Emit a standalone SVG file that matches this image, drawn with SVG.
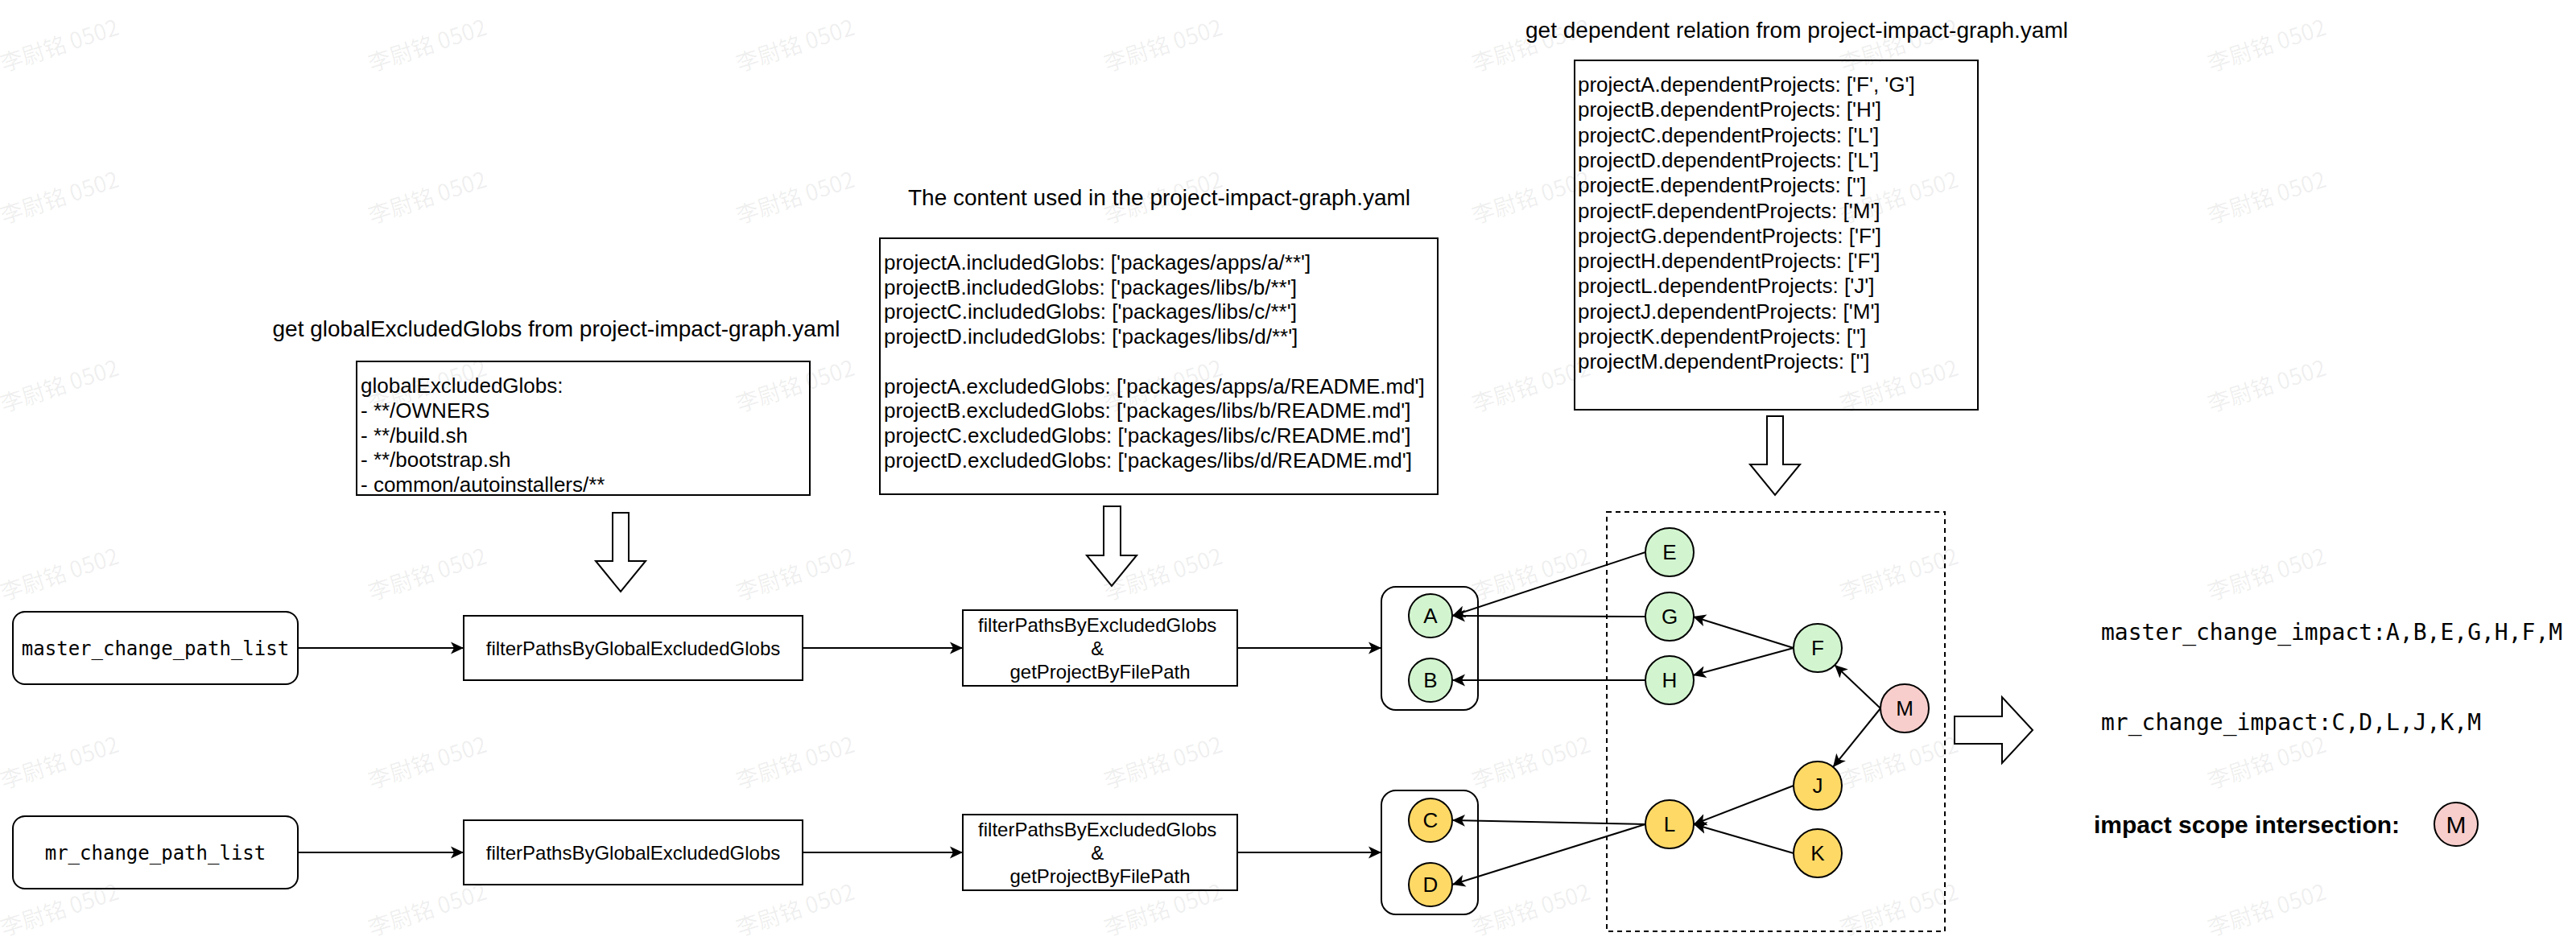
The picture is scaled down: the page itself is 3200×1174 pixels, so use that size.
<svg xmlns="http://www.w3.org/2000/svg" width="3200" height="1174" viewBox="0 0 3200 1174">
<style>
.t{font-family:"Liberation Sans",Arial,Helvetica,sans-serif;fill:#000}
.m{font-family:"DejaVu Sans Mono","Liberation Mono",monospace;fill:#000}
.box{fill:#fff;stroke:#000;stroke-width:2}
.ln{fill:none;stroke:#000;stroke-width:2}
.g{fill:#d2f5cf;stroke:#000;stroke-width:2}
.y{fill:#ffd966;stroke:#000;stroke-width:2}
.p{fill:#f8cecc;stroke:#000;stroke-width:2}
.blk{fill:#fff;stroke:#000;stroke-width:2;stroke-linejoin:miter}
.wm{font-family:"Noto Sans CJK SC","Liberation Sans",sans-serif;font-size:28px;fill:#000;fill-opacity:0.07}
</style>
<defs>
<marker id="arr" markerUnits="userSpaceOnUse" markerWidth="18" markerHeight="16" viewBox="0 0 18 16" refX="16" refY="8" orient="auto">
<path d="M0,0.5 L16,8 L0,15.5 L4,8 Z" fill="#000"/>
</marker>
</defs>
<rect width="3200" height="1174" fill="#fff"/>

<g id="title-global" class="t" font-size="28"><text x="691" y="418" text-anchor="middle">get globalExcludedGlobs from project-impact-graph.yaml</text></g>
<g id="title-content" class="t" font-size="28"><text x="1440" y="255" text-anchor="middle">The content used in the project-impact-graph.yaml</text></g>
<g id="title-dependent" class="t" font-size="28"><text x="2232" y="47" text-anchor="middle">get dependent relation from project-impact-graph.yaml</text></g>

<g id="global-globs-box">
<rect class="box" x="443" y="449" width="563" height="166"/>
<text class="t" font-size="26">
<tspan x="448" y="488">globalExcludedGlobs:</tspan>
<tspan x="448" y="519">- **/OWNERS</tspan>
<tspan x="448" y="550">- **/build.sh</tspan>
<tspan x="448" y="580">- **/bootstrap.sh</tspan>
<tspan x="448" y="611">- common/autoinstallers/**</tspan>
</text>
</g>

<g id="content-box">
<rect class="box" x="1093" y="296" width="693" height="318"/>
<text class="t" font-size="26">
<tspan x="1098" y="335">projectA.includedGlobs: ['packages/apps/a/**']</tspan>
<tspan x="1098" y="366">projectB.includedGlobs: ['packages/libs/b/**']</tspan>
<tspan x="1098" y="396">projectC.includedGlobs: ['packages/libs/c/**']</tspan>
<tspan x="1098" y="427">projectD.includedGlobs: ['packages/libs/d/**']</tspan>
<tspan x="1098" y="489">projectA.excludedGlobs: ['packages/apps/a/README.md']</tspan>
<tspan x="1098" y="519">projectB.excludedGlobs: ['packages/libs/b/README.md']</tspan>
<tspan x="1098" y="550">projectC.excludedGlobs: ['packages/libs/c/README.md']</tspan>
<tspan x="1098" y="581">projectD.excludedGlobs: ['packages/libs/d/README.md']</tspan>
</text>
</g>

<g id="dependent-box">
<rect class="box" x="1956" y="75" width="501" height="434"/>
<text class="t" font-size="26">
<tspan x="1960" y="114">projectA.dependentProjects: ['F', 'G']</tspan>
<tspan x="1960" y="145">projectB.dependentProjects: ['H']</tspan>
<tspan x="1960" y="177">projectC.dependentProjects: ['L']</tspan>
<tspan x="1960" y="208">projectD.dependentProjects: ['L']</tspan>
<tspan x="1960" y="239">projectE.dependentProjects: ['']</tspan>
<tspan x="1960" y="271">projectF.dependentProjects: ['M']</tspan>
<tspan x="1960" y="302">projectG.dependentProjects: ['F']</tspan>
<tspan x="1960" y="333">projectH.dependentProjects: ['F']</tspan>
<tspan x="1960" y="364">projectL.dependentProjects: ['J']</tspan>
<tspan x="1960" y="396">projectJ.dependentProjects: ['M']</tspan>
<tspan x="1960" y="427">projectK.dependentProjects: ['']</tspan>
<tspan x="1960" y="458">projectM.dependentProjects: ['']</tspan>
</text>
</g>

<g id="block-arrows">
<path id="down-arrow-1" class="blk" d="M761,637 H781 V697 H802 L771,735 L740,697 H761 Z"/>
<path id="down-arrow-2" class="blk" d="M1371,629 H1392 V690 H1412 L1381,728 L1350,690 H1371 Z"/>
<path id="down-arrow-3" class="blk" d="M2195,517 H2215 V577 H2236 L2205,615 L2174,577 H2195 Z"/>
<path id="right-arrow" class="blk" d="M2428,890 H2487 V866 L2525,907 L2487,948 V924 H2428 Z"/>
</g>

<g id="master-change-path-list">
<rect class="box" x="16" y="760" width="354" height="90" rx="15"/>
<text class="m" font-size="24" x="193" y="814" text-anchor="middle">master_change_path_list</text>
</g>
<g id="mr-change-path-list">
<rect class="box" x="16" y="1014" width="354" height="90" rx="15"/>
<text class="m" font-size="24" x="193" y="1068" text-anchor="middle">mr_change_path_list</text>
</g>

<g id="filter-global-1">
<rect class="box" x="576" y="765" width="421" height="80"/>
<text class="t" font-size="24" x="786.5" y="813.5" text-anchor="middle">filterPathsByGlobalExcludedGlobs</text>
</g>
<g id="filter-global-2">
<rect class="box" x="576" y="1019" width="421" height="80"/>
<text class="t" font-size="24" x="786.5" y="1067.5" text-anchor="middle">filterPathsByGlobalExcludedGlobs</text>
</g>

<g id="filter-excluded-1">
<rect class="box" x="1196" y="758" width="341" height="94"/>
<text class="t" font-size="24" text-anchor="middle">
<tspan x="1366.5" y="784.5">filterPathsByExcludedGlobs</tspan>
<tspan x="1366.5" y="813.5">&amp;</tspan>
<tspan x="1366.5" y="842.5">getProjectByFilePath</tspan>
</text>
</g>
<g id="filter-excluded-2">
<rect class="box" x="1196" y="1012" width="341" height="94"/>
<text class="t" font-size="24" text-anchor="middle">
<tspan x="1366.5" y="1038.5">filterPathsByExcludedGlobs</tspan>
<tspan x="1366.5" y="1067.5">&amp;</tspan>
<tspan x="1366.5" y="1096.5">getProjectByFilePath</tspan>
</text>
</g>

<g id="group-ab"><rect class="box" x="1716" y="729" width="120" height="153" rx="18"/></g>
<g id="group-cd"><rect class="box" x="1716" y="982" width="120" height="154" rx="18"/></g>
<g id="dependency-area"><rect x="1996" y="636" width="420" height="521" fill="none" stroke="#000" stroke-width="2" stroke-dasharray="6 5"/></g>

<g id="connectors" class="ln" marker-end="url(#arr)">
<path d="M370,805 H576"/>
<path d="M997,805 H1196"/>
<path d="M1537,805 H1716"/>
<path d="M370,1059 H576"/>
<path d="M997,1059 H1196"/>
<path d="M1537,1059 H1716"/>
<path d="M2044,686 L1804,765"/>
<path d="M2044,766 L1804,765"/>
<path d="M2044,845 L1804,845"/>
<path d="M2228,805 L2103,766"/>
<path d="M2228,805 L2103,839"/>
<path d="M2336,880 L2279,826"/>
<path d="M2336,880 L2277,953"/>
<path d="M2228,976 L2104,1024"/>
<path d="M2228,1060 L2104,1024"/>
<path d="M2044,1024 L1804,1019"/>
<path d="M2044,1024 L1804,1099"/>
</g>

<g id="node-A"><circle class="g" cx="1777" cy="765" r="27"/><text class="t" font-size="26" x="1777" y="774" text-anchor="middle">A</text></g>
<g id="node-B"><circle class="g" cx="1777" cy="845" r="27"/><text class="t" font-size="26" x="1777" y="854" text-anchor="middle">B</text></g>
<g id="node-C"><circle class="y" cx="1777" cy="1019" r="27"/><text class="t" font-size="26" x="1777" y="1028" text-anchor="middle">C</text></g>
<g id="node-D"><circle class="y" cx="1777" cy="1099" r="27"/><text class="t" font-size="26" x="1777" y="1108" text-anchor="middle">D</text></g>
<g id="node-E"><circle class="g" cx="2074" cy="686" r="30"/><text class="t" font-size="26" x="2074" y="695" text-anchor="middle">E</text></g>
<g id="node-G"><circle class="g" cx="2074" cy="766" r="30"/><text class="t" font-size="26" x="2074" y="775" text-anchor="middle">G</text></g>
<g id="node-H"><circle class="g" cx="2074" cy="845" r="30"/><text class="t" font-size="26" x="2074" y="854" text-anchor="middle">H</text></g>
<g id="node-F"><circle class="g" cx="2258" cy="805" r="30"/><text class="t" font-size="26" x="2258" y="814" text-anchor="middle">F</text></g>
<g id="node-M"><circle class="p" cx="2366" cy="880" r="30"/><text class="t" font-size="26" x="2366" y="889" text-anchor="middle">M</text></g>
<g id="node-J"><circle class="y" cx="2258" cy="976" r="30"/><text class="t" font-size="26" x="2258" y="985" text-anchor="middle">J</text></g>
<g id="node-L"><circle class="y" cx="2074" cy="1024" r="30"/><text class="t" font-size="26" x="2074" y="1033" text-anchor="middle">L</text></g>
<g id="node-K"><circle class="y" cx="2258" cy="1060" r="30"/><text class="t" font-size="26" x="2258" y="1069" text-anchor="middle">K</text></g>

<g id="result-master"><text class="m" font-size="28" x="2610" y="795">master_change_impact:A,B,E,G,H,F,M</text></g>
<g id="result-mr"><text class="m" font-size="28" x="2610" y="907">mr_change_impact:C,D,L,J,K,M</text></g>
<g id="result-intersection">
<text class="t" font-size="30" font-weight="bold" x="2601" y="1035">impact scope intersection:</text>
<circle class="p" cx="3051" cy="1024" r="27"/>
<text class="t" font-size="30" x="3051" y="1035" text-anchor="middle">M</text>
</g>

<g id="watermark" class="wm" text-anchor="middle">
<text transform="translate(77,66) rotate(-18)">李尉铭 0502</text>
<text transform="translate(534,66) rotate(-18)">李尉铭 0502</text>
<text transform="translate(991,66) rotate(-18)">李尉铭 0502</text>
<text transform="translate(1448,66) rotate(-18)">李尉铭 0502</text>
<text transform="translate(1905,66) rotate(-18)">李尉铭 0502</text>
<text transform="translate(2362,66) rotate(-18)">李尉铭 0502</text>
<text transform="translate(2819,66) rotate(-18)">李尉铭 0502</text>
<text transform="translate(77,255) rotate(-18)">李尉铭 0502</text>
<text transform="translate(534,255) rotate(-18)">李尉铭 0502</text>
<text transform="translate(991,255) rotate(-18)">李尉铭 0502</text>
<text transform="translate(1448,255) rotate(-18)">李尉铭 0502</text>
<text transform="translate(1905,255) rotate(-18)">李尉铭 0502</text>
<text transform="translate(2362,255) rotate(-18)">李尉铭 0502</text>
<text transform="translate(2819,255) rotate(-18)">李尉铭 0502</text>
<text transform="translate(77,489) rotate(-18)">李尉铭 0502</text>
<text transform="translate(534,489) rotate(-18)">李尉铭 0502</text>
<text transform="translate(991,489) rotate(-18)">李尉铭 0502</text>
<text transform="translate(1448,489) rotate(-18)">李尉铭 0502</text>
<text transform="translate(1905,489) rotate(-18)">李尉铭 0502</text>
<text transform="translate(2362,489) rotate(-18)">李尉铭 0502</text>
<text transform="translate(2819,489) rotate(-18)">李尉铭 0502</text>
<text transform="translate(77,723) rotate(-18)">李尉铭 0502</text>
<text transform="translate(534,723) rotate(-18)">李尉铭 0502</text>
<text transform="translate(991,723) rotate(-18)">李尉铭 0502</text>
<text transform="translate(1448,723) rotate(-18)">李尉铭 0502</text>
<text transform="translate(1905,723) rotate(-18)">李尉铭 0502</text>
<text transform="translate(2362,723) rotate(-18)">李尉铭 0502</text>
<text transform="translate(2819,723) rotate(-18)">李尉铭 0502</text>
<text transform="translate(77,957) rotate(-18)">李尉铭 0502</text>
<text transform="translate(534,957) rotate(-18)">李尉铭 0502</text>
<text transform="translate(991,957) rotate(-18)">李尉铭 0502</text>
<text transform="translate(1448,957) rotate(-18)">李尉铭 0502</text>
<text transform="translate(1905,957) rotate(-18)">李尉铭 0502</text>
<text transform="translate(2362,957) rotate(-18)">李尉铭 0502</text>
<text transform="translate(2819,957) rotate(-18)">李尉铭 0502</text>
<text transform="translate(77,1140) rotate(-18)">李尉铭 0502</text>
<text transform="translate(534,1140) rotate(-18)">李尉铭 0502</text>
<text transform="translate(991,1140) rotate(-18)">李尉铭 0502</text>
<text transform="translate(1448,1140) rotate(-18)">李尉铭 0502</text>
<text transform="translate(1905,1140) rotate(-18)">李尉铭 0502</text>
<text transform="translate(2362,1140) rotate(-18)">李尉铭 0502</text>
<text transform="translate(2819,1140) rotate(-18)">李尉铭 0502</text>
</g>
</svg>
